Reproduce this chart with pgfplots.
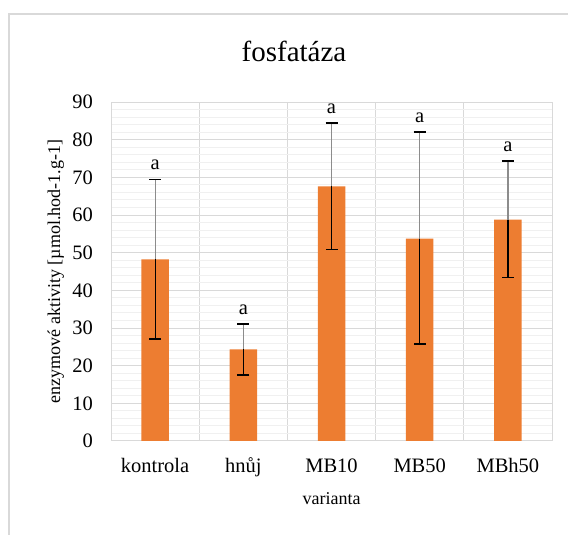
\documentclass[border=0pt]{standalone}
\usepackage{pgfplots}
\usepackage{pgfplotstable}
\pgfplotsset{compat=1.18}
\usepackage{fontspec}
\setmainfont{Liberation Serif}
\definecolor{barc}{HTML}{ED7D31}
\definecolor{gridc}{HTML}{D9D9D9}
\definecolor{minorc}{HTML}{F0F0F0}
\definecolor{errg}{HTML}{8C8C8C}
\pgfplotstableread{
x y ep em top
0 48.2 21.3 21.1 69.5
1 24.3 6.8 6.8 31.1
2 67.6 16.8 16.7 84.4
3 53.7 28.3 28.0 82.0
4 58.8 15.5 15.4 74.3
}\datatab
\begin{document}
\begin{tikzpicture}
\useasboundingbox (0,0) rectangle (568bp,535bp);
\draw[gridc, line width=1.2bp] (9bp,0) -- (9bp,521bp) -- (568bp,521bp);
\node[anchor=base, font=\fontsize{29bp}{34bp}\selectfont] at (294bp,473.3bp) {fosfatáza};
\begin{axis}[
  at={(111bp,94bp)}, anchor=south west,
  scale only axis, width=441bp, height=339bp,
  xmin=-0.5, xmax=4.5, ymin=0, ymax=90,
  xtick={0,1,2,3,4},
  xticklabels={kontrola,hnůj,MB10,MB50,MBh50},
  minor xtick={0.5,1.5,2.5,3.5},
  ytick={0,10,...,90},
  minor y tick num=4,
  xminorgrids, ymajorgrids, yminorgrids,
  minor x grid style={gridc, line width=1bp},
  major y grid style={gridc, line width=1bp},
  minor y grid style={minorc, line width=1bp},
  axis line style={gridc, line width=1bp},
  major tick length=0pt, minor tick length=0pt,
  /pgf/number format/assume math mode=true,
  ticklabel style={font=\fontsize{20.5bp}{24bp}\selectfont, inner sep=0pt},
  yticklabel style={anchor=east, xshift=-18bp},
  xticklabel style={anchor=base, yshift=-32bp},
  xlabel={varianta},
  ylabel={enzymové aktivity [µmol.hod-1.g-1]},
  label style={font=\fontsize{18bp}{21bp}\selectfont},
  xlabel style={at={(axis description cs:0.5,0)}, anchor=base, yshift=-63bp, inner sep=0pt},
  ylabel style={at={(axis description cs:0,0.5)}, anchor=center, yshift=55.3bp},
]
\addplot[ybar, bar width=27.5bp, fill=barc, draw=none] table[x=x, y=y] {\datatab};
\addplot[draw=none, mark=none,
  error bars/.cd, y dir=plus, y explicit, error mark=|,
  error bar style={draw=errg, line width=1.2bp},
  error mark options={draw=black, line width=1.4bp, mark size=6bp}]
  table[x=x, y=y, y error plus=ep] {\datatab};
\addplot[draw=none, mark=none,
  error bars/.cd, y dir=minus, y explicit, error mark=|,
  error bar style={draw=black, line width=1.2bp},
  error mark options={draw=black, line width=1.4bp, mark size=6bp}]
  table[x=x, y=y, y error minus=em] {\datatab};
\addplot[draw=none, mark=none, nodes near coords={a},
  every node near coord/.style={anchor=base, yshift=9.5bp, inner sep=0pt, black, font=\fontsize{20.5bp}{24bp}\selectfont}]
  table[x=x, y=top] {\datatab};
\end{axis}
\end{tikzpicture}
\end{document}
